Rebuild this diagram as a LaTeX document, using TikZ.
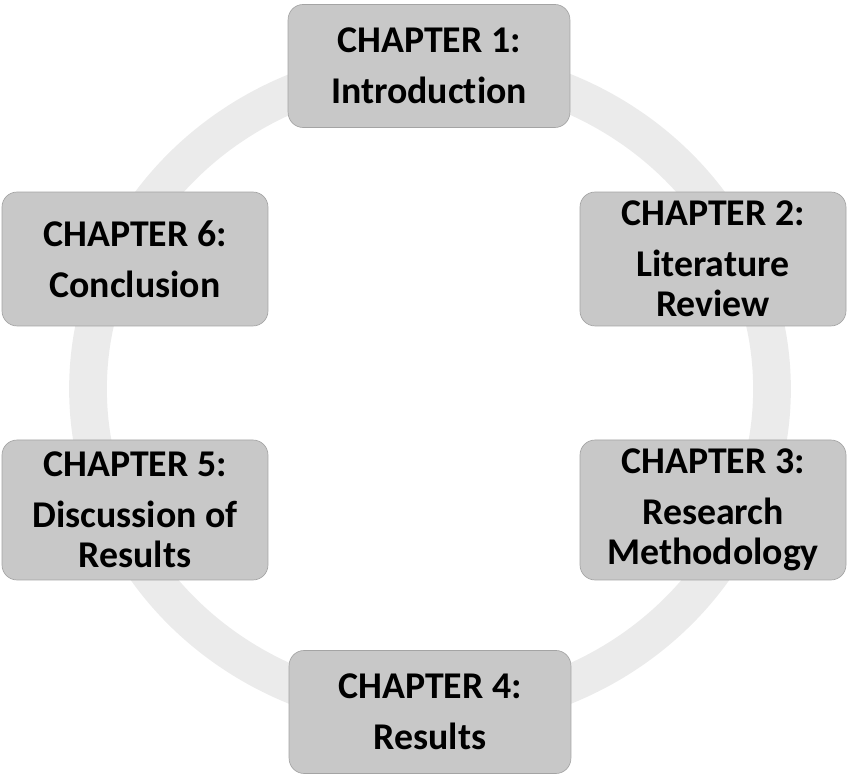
\documentclass[tikz,border=0pt]{standalone}
\usepackage{fontspec}
\setmainfont{Carlito}[Ligatures=NoCommon]
\usepackage{tikz}
\definecolor{chapterfill}{HTML}{C8C8C8}
\definecolor{chapterdraw}{HTML}{A4A4A4}
\definecolor{cyclering}{HTML}{EBEBEB}

\begin{document}
\begin{tikzpicture}[x=0.0265cm,y=0.0265cm,
        chapter/.style={rectangle,draw=chapterdraw,fill=chapterfill,
          line width=0.5pt,rounded corners=4mm,align=center,inner sep=1pt,
          font=\fontsize{28.5}{30.5}\selectfont\bfseries},
        wide/.style={minimum width=7.47cm,minimum height=3.26cm},
        side/.style={minimum width=7.05cm,minimum height=#1}]
        \useasboundingbox (0,0) rectangle (849,778);
        % The pale ring runs behind all six boxes.
        \draw[cyclering,line width=1.0cm]
          (430,389) ellipse [x radius=342,y radius=323];
        \node[chapter,wide] (ch1) at (429,712)
          {CHAPTER 1:\\[8pt]Introduction};
        \node[chapter,side=3.55cm] (ch2) at (713,519)
          {CHAPTER 2:\\[8pt]Literature\\Review};
        \node[chapter,side=3.71cm] (ch3) at (713,268)
          {CHAPTER 3:\\[8pt]Research\\Methodology};
        \node[chapter,wide] (ch4) at (430,66)
          {CHAPTER 4:\\[8pt]Results};
        \node[chapter,side=3.71cm] (ch5) at (135,268)
          {CHAPTER 5:\\[8pt]Discussion of\\Results};
        \node[chapter,side=3.55cm] (ch6) at (135,519)
          {CHAPTER 6:\\[8pt]Conclusion};
      \end{tikzpicture}
\end{document}
